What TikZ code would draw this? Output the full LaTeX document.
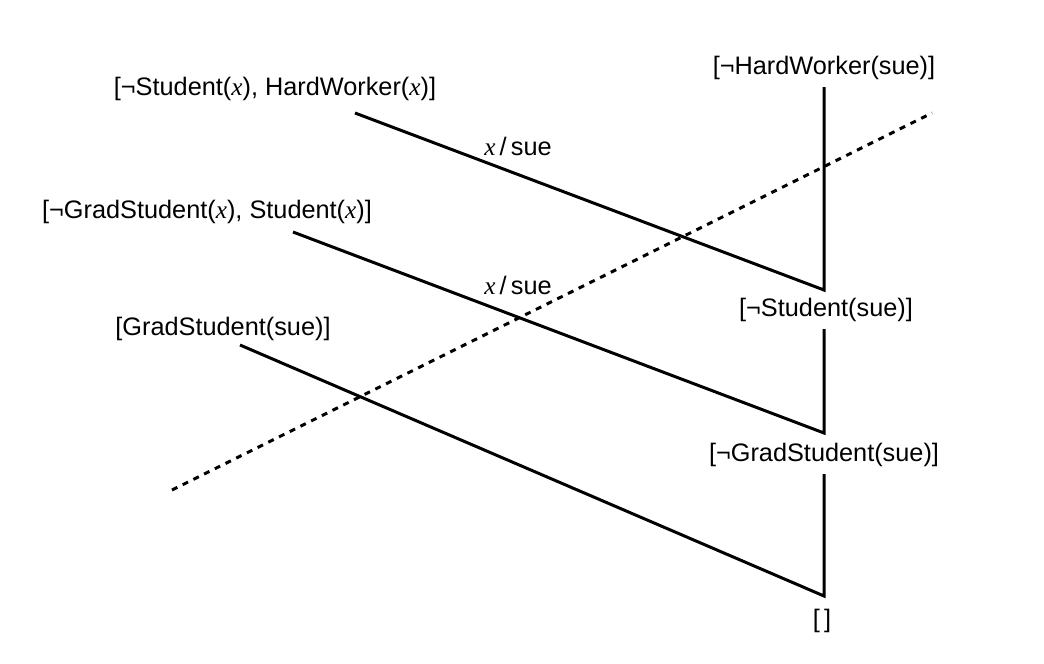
\documentclass[tikz,border=0pt]{standalone}
\usepackage{fontspec}
\setmainfont{Liberation Sans}
\newfontfamily\timesf{Liberation Serif}
\usepackage{tikz}
\newcommand{\vx}{{\timesf\itshape x}}
\newcommand{\nt}{\char"00AC}
\def\width{1044}
\def\hauteur{663}

\begin{document}
\begin{tikzpicture}[x=0.02cm, y=-0.02cm,
	clause/.style={inner sep=4pt, font=\fontsize{14.4}{17}\selectfont},
	res/.style={line width=1.7pt, line join=miter},
	cut/.style={line width=1.7pt, dash pattern=on 3.4pt off 3.4pt}]
	\useasboundingbox (0,0) rectangle (\width,\hauteur);
	% input clauses on the left
	\node[clause] (c1) at (275,89){[\nt Student(\vx), HardWorker(\vx)]};
	\node[clause] (c2) at (207,212){[\nt GradStudent(\vx), Student(\vx)]};
	\node[clause] (c3) at (223,329){[GradStudent(sue)]};
	% resolvents on the right
	\node[clause] (r0) at (824,68){[\nt HardWorker(sue)]};
	\node[clause] (r1) at (826,310){[\nt Student(sue)]};
	\node[clause] (r2) at (824,455){[\nt GradStudent(sue)]};
	\node[clause] (r3) at (822,621){[\,]};
	\coordinate (s1) at (355,113);
	\coordinate (s2) at (293,232);
	\coordinate (s3) at (240,345);
	\coordinate (j1) at (824,290);
	\coordinate (j2) at (824,433);
	\coordinate (j3) at (824,596);
	\draw[res] (s1) -- (j1) -- (r0.south -| j1);
	\draw[res] (s2) -- (j2) -- (r1.south -| j2);
	\draw[res] (s3) -- (j3) -- (r2.south -| j3);
	\node[clause] (u1) at (518,146){\vx\,/\,sue};
	\node[clause] (u2) at (518,285){\vx\,/\,sue};
	% the cut
	\coordinate (d1) at (172,490);
	\coordinate (d2) at (932,113);
	\draw[cut] (d1) -- (d2);
\end{tikzpicture}
\end{document}
